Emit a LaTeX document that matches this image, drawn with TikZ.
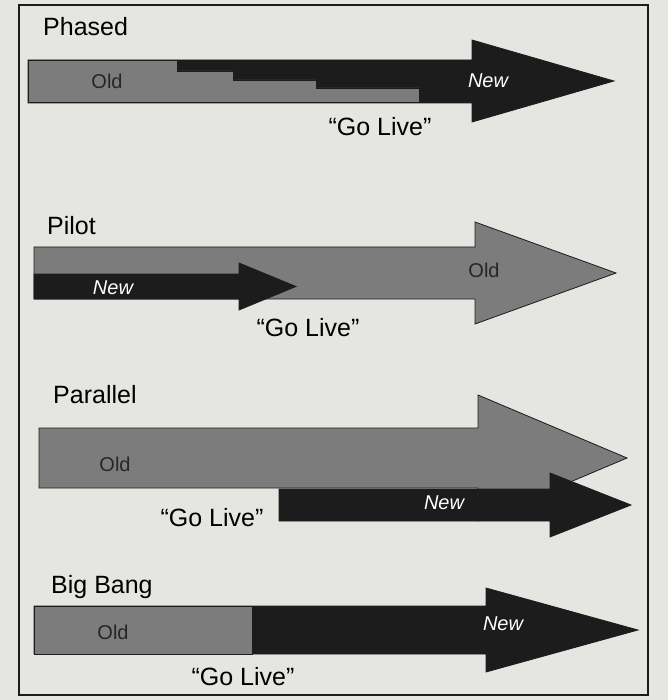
\documentclass[tikz,border=0pt]{standalone}
\usepackage{fontspec}
\setmainfont{Liberation Sans}
\definecolor{pagegrey}{RGB}{229,229,226}
\definecolor{oldgrey}{RGB}{124,124,124}
\definecolor{newblack}{RGB}{28,28,28}
\tikzset{
  oldbar/.style={fill=oldgrey,draw=newblack,line width=0.8pt},
  newbar/.style={fill=newblack,draw=newblack,line width=0.8pt},
  title/.style={font=\fontsize{25}{27}\selectfont,anchor=base west,inner sep=0pt},
  golive/.style={font=\fontsize{25}{27}\selectfont,inner sep=0pt},
  oldtext/.style={font=\fontsize{20}{22}\selectfont,text=black!85,inner sep=0pt},
  newtext/.style={font=\fontsize{20}{22}\selectfont\itshape,text=white,inner sep=0pt},
}
\begin{document}
\begin{tikzpicture}[x=1pt,y=-1pt]
\useasboundingbox (0,0) rectangle (668,700);
\fill[pagegrey] (0,0) rectangle (668,700);
\draw[line width=1.6pt,newblack] (19,5) rectangle (648,695);

\begin{scope}[name prefix=phased-]
  \node[title] (title) at (43,36) {Phased};
  \draw[newbar] (28,60) -- (472,60) -- (472,40) -- (614,81) -- (472,122) -- (472,103) -- (28,103) -- cycle;
  \draw[oldbar] (28,60) -- (177,60) -- (177,71) -- (233,71) -- (233,80) -- (316,80) -- (316,88) -- (419,88) -- (419,102) -- (28,102) -- cycle;
  \node[oldtext] (old) at (107,81) {Old};
  \node[newtext] (new) at (488,81) {New};
  \node[golive] (golive) at (380,127) {“Go Live”};
\end{scope}

\begin{scope}[name prefix=pilot-]
  \node[title] (title) at (47,235) {Pilot};
  \draw[oldbar] (34,247) -- (475,247) -- (475,222) -- (616,273) -- (475,324) -- (475,299) -- (34,299) -- cycle;
  \draw[newbar] (34,274) -- (239,274) -- (239,263) -- (296,286.5) -- (239,310) -- (239,299) -- (34,299) -- cycle;
  \node[oldtext] (old) at (484,270) {Old};
  \node[newtext] (new) at (113,288) {New};
  \node[golive] (golive) at (308,328) {“Go Live”};
\end{scope}

\begin{scope}[name prefix=parallel-]
  \node[title] (title) at (53,403) {Parallel};
  \draw[oldbar] (39,428) -- (478,428) -- (478,395) -- (627,458) -- (478,521) -- (478,488) -- (39,488) -- cycle;
  \draw[newbar] (279,489) -- (550,489) -- (550,473) -- (631,505) -- (550,537) -- (550,521) -- (279,521) -- cycle;
  \node[oldtext] (old) at (115,464) {Old};
  \node[newtext] (new) at (444,503) {New};
  \node[golive] (golive) at (212,518) {“Go Live”};
\end{scope}

\begin{scope}[name prefix=bigbang-]
  \node[title] (title) at (51,593) {Big Bang};
  \draw[newbar] (34,606) -- (486,606) -- (486,588) -- (638,630) -- (486,672) -- (486,654) -- (34,654) -- cycle;
  \draw[oldbar] (34,606) rectangle (252,654);
  \node[oldtext] (old) at (113,632) {Old};
  \node[newtext] (new) at (503,624) {New};
  \node[golive] (golive) at (243,677) {“Go Live”};
\end{scope}
\end{tikzpicture}
\end{document}
